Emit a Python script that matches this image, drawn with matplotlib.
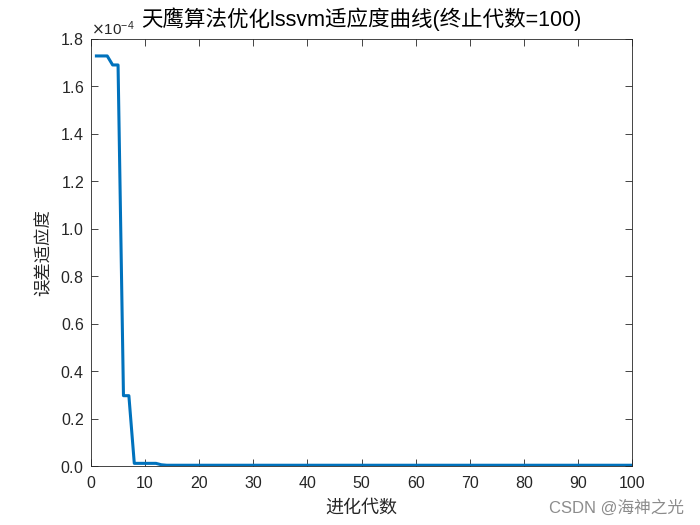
import matplotlib.pyplot as plt
from matplotlib.ticker import ScalarFormatter

plt.rcParams["font.family"] = ["Liberation Sans", "Noto Sans CJK SC"]

# fitness curve, values in units of 1e-4
generations = list(range(1, 101))
fitness_e4 = [1.728, 1.728, 1.728, 1.690, 1.690, 0.297, 0.297,
              0.012, 0.012, 0.012, 0.012, 0.012, 0.006] + [0.004] * 87
fitness = [v * 1e-4 for v in fitness_e4]

fig = plt.figure(figsize=(7, 5.25), dpi=100)
ax = fig.add_axes([0.13, 0.112, 0.773, 0.814])

ax.plot(generations, fitness, color="#0072BD", linewidth=2.2)

ax.set_xlim(0, 100)
ax.set_ylim(0, 1.8e-4)
ax.set_xticks(range(0, 101, 10))
ax.set_yticks([i * 0.2e-4 for i in range(10)])

fmt = ScalarFormatter(useMathText=True)
fmt.set_powerlimits((-3, 3))
ax.yaxis.set_major_formatter(fmt)
ax.yaxis.get_offset_text().set_fontsize(11)

ax.tick_params(direction="in", top=True, right=True, labelsize=11.5,
               length=5, width=0.6, colors="#262626")
ax.tick_params(axis="x", pad=7)
ax.tick_params(axis="y", pad=5)
for s in ax.spines.values():
    s.set_linewidth(0.6)
    s.set_color("#262626")

ax.set_title("天鹰算法优化lssvm适应度曲线(终止代数=100)", fontsize=15.5,
             color="#000000", pad=9)
ax.set_xlabel("进化代数", fontsize=13, color="#262626", labelpad=6)
ax.set_ylabel("误差适应度", fontsize=12.5, color="#262626", labelpad=6)

fig.text(0.977, 0.018, "CSDN @海神之光", ha="right", va="bottom",
         fontsize=12, color="#8c8c8c")

fig.savefig("out.png", dpi=100)
